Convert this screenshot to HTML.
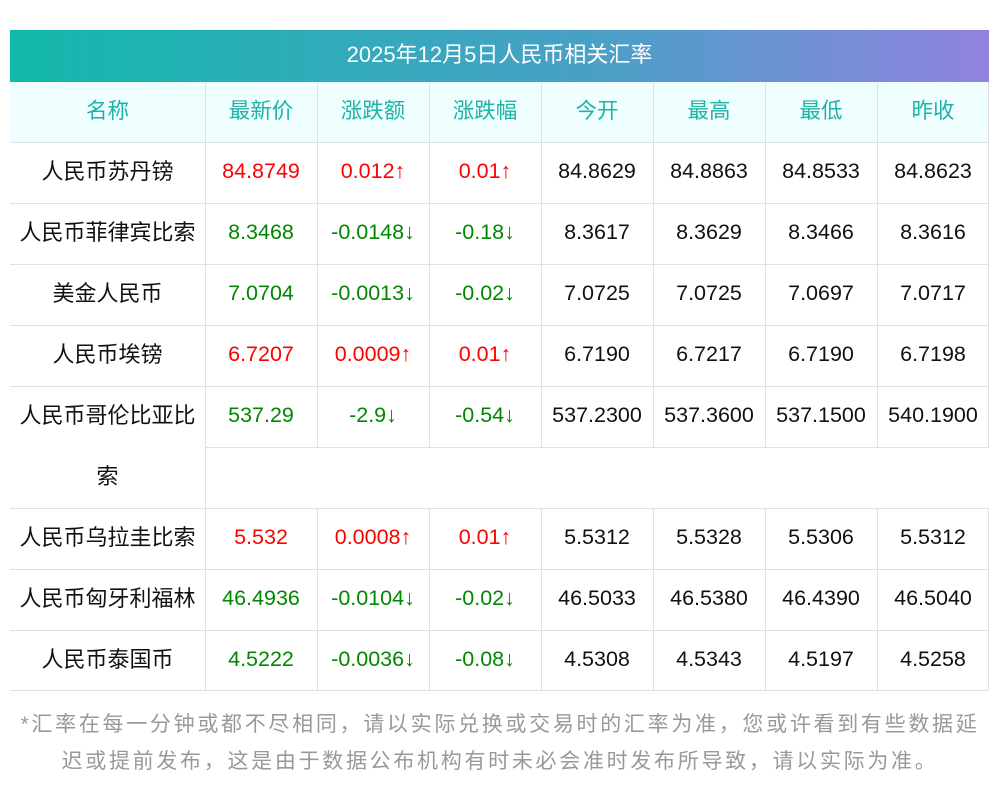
<!DOCTYPE html>
<html><head><meta charset="utf-8"><style>
body{margin:0;width:1000px;height:793px;background:#fff;position:relative;font-family:"Liberation Sans","Noto Sans CJK SC",sans-serif;overflow:hidden}
.a{position:absolute}
.t{left:10px;top:30px;width:979px;height:52px;background:linear-gradient(90deg,#12b8ab,#4aa0c6 60%,#9182e0);color:#fff;font-size:22px;line-height:50px;text-align:center}
.hl{position:absolute;height:1px;background:#e0e0ea}
.vl{position:absolute;width:1px;background:#e0e0ea}
.c{position:absolute;text-align:center;font-size:21.5px;line-height:59px;height:61px;color:#111;white-space:nowrap}
.n{font-size:22px}
.h{color:#1fb2a8}
.r{color:#f00}.g{color:#080}
.f{left:0px;width:1000px;top:706px;font-size:21px;line-height:37px;color:#999;text-align:center;white-space:nowrap;letter-spacing:2.7px}
</style></head><body>
<div class="a t">2025年12月5日人民币相关汇率</div>
<div class="a" style="left:10px;top:82px;width:979px;height:60px;background:#effefe"></div>
<div id="g"></div>
<div class="a f">*汇率在每一分钟或都不尽相同，请以实际兑换或交易时的汇率为准，您或许看到有些数据延<br>迟或提前发布，这是由于数据公布机构有时未必会准时发布所导致，请以实际为准。</div>
<script>
const xs=[10,205,317,429,541,653,765,877,989];
const hdr=["名称","最新价","涨跌额","涨跌幅","今开","最高","最低","昨收"];
const rows=[
["人民币苏丹镑","84.8749","0.012↑","0.01↑","84.8629","84.8863","84.8533","84.8623","r"],
["人民币菲律宾比索","8.3468","-0.0148↓","-0.18↓","8.3617","8.3629","8.3466","8.3616","g"],
["美金人民币","7.0704","-0.0013↓","-0.02↓","7.0725","7.0725","7.0697","7.0717","g"],
["人民币埃镑","6.7207","0.0009↑","0.01↑","6.7190","6.7217","6.7190","6.7198","r"],
["人民币哥伦比亚比","537.29","-2.9↓","-0.54↓","537.2300","537.3600","537.1500","540.1900","g"],
["人民币乌拉圭比索","5.532","0.0008↑","0.01↑","5.5312","5.5328","5.5306","5.5312","r"],
["人民币匈牙利福林","46.4936","-0.0104↓","-0.02↓","46.5033","46.5380","46.4390","46.5040","g"],
["人民币泰国币","4.5222","-0.0036↓","-0.08↓","4.5308","4.5343","4.5197","4.5258","g"]];
const tops=[142,203,264,325,386,508,569,630];
let h="";
hdr.forEach((t,i)=>h+=`<div class="c h" style="left:${xs[i]}px;width:${xs[i+1]-xs[i]}px;top:82px">${t}</div>`);
rows.forEach((r,k)=>{const y=tops[k];
for(let i=0;i<8;i++){const cl=(i>=1&&i<=3)?r[8]:(i==0?"n":"");
h+=`<div class="c ${cl}" style="left:${xs[i]}px;width:${xs[i+1]-xs[i]}px;top:${y}px">${r[i]}</div>`;}
h+=`<div class="hl" style="left:10px;width:979px;top:${y}px"></div>`;});
h+=`<div class="c n" style="left:10px;width:195px;top:447px">索</div>`;
h+=`<div class="hl" style="left:10px;width:979px;top:690px"></div>`;
h+=`<div class="hl" style="left:205px;width:784px;top:447px"></div>`;
h+=`<div class="vl" style="left:205px;top:82px;height:609px"></div>`;
for(let i=2;i<8;i++){h+=`<div class="vl" style="left:${xs[i]}px;top:82px;height:365px"></div><div class="vl" style="left:${xs[i]}px;top:508px;height:183px"></div>`;}
h+=`<div class="vl" style="left:988px;top:82px;height:365px"></div><div class="vl" style="left:988px;top:508px;height:183px"></div>`;
document.getElementById("g").innerHTML=h;
</script>
</body></html>
